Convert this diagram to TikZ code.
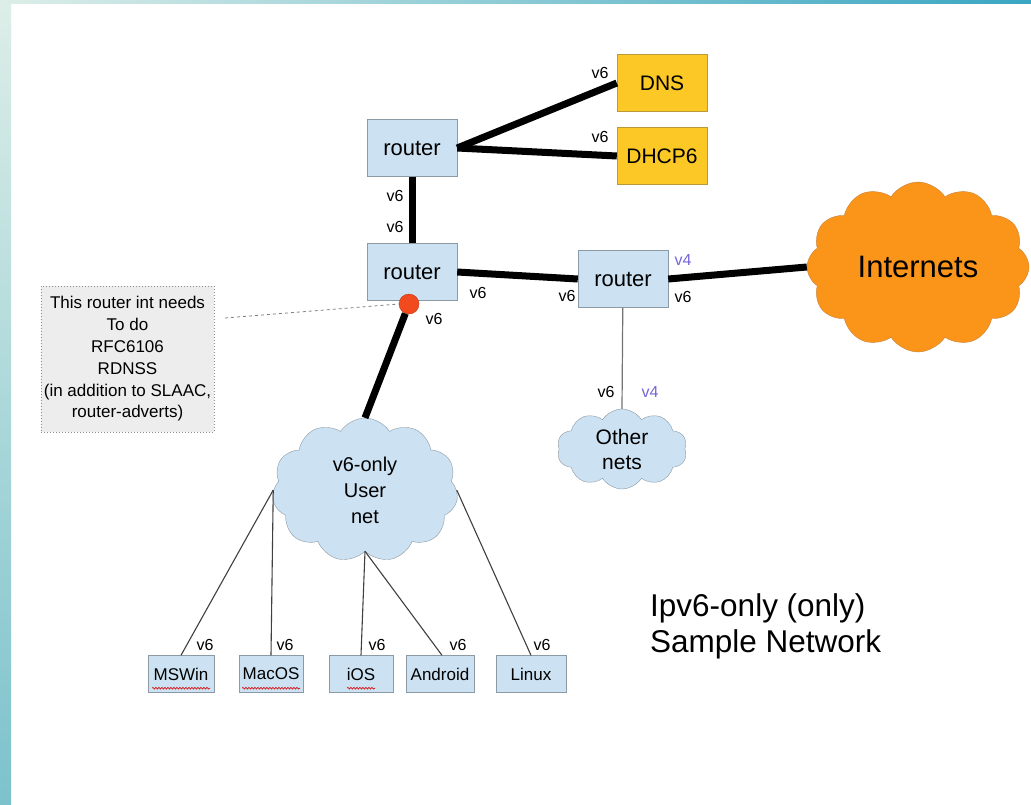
\documentclass[tikz,border=0pt]{standalone}
\usepackage{fontspec}
\setmainfont{Liberation Sans}
\usetikzlibrary{shapes.symbols,decorations.pathmorphing}

\definecolor{boxblue}{HTML}{CCE2F2}
\definecolor{boxedge}{HTML}{8C9AA6}
\definecolor{srvgold}{HTML}{FCC826}
\definecolor{srvedge}{HTML}{B89A3A}
\definecolor{inetorange}{HTML}{FB9519}
\definecolor{inetedge}{HTML}{C8823A}
\definecolor{dotred}{HTML}{F04A1E}
\definecolor{vfour}{HTML}{7466D9}
\definecolor{notegray}{HTML}{EDEDED}
\definecolor{framelight}{HTML}{DDEEE8}
\definecolor{framemid}{HTML}{7CC2CC}
\definecolor{framedeep}{HTML}{3AA6C2}

\begin{document}
\begin{tikzpicture}[x=1pt,y=-1pt,
    box/.style={draw=boxedge,fill=boxblue,inner sep=0pt,minimum width=90,minimum height=57,font=\fontsize{22}{26}\selectfont},
    srv/.style={draw=srvedge,fill=srvgold,inner sep=0pt,minimum width=90,minimum height=57,font=\fontsize{21}{25}\selectfont},
    dev/.style={draw=boxedge,fill=boxblue,inner sep=0pt,minimum height=37,font=\fontsize{17}{20}\selectfont},
    net/.style={cloud,cloud puffs=11,cloud puff arc=115,cloud ignores aspect,draw=boxedge,fill=boxblue,align=center,inner sep=0pt},
    link/.style={line width=7pt,black},
    drop/.style={line width=1.1pt,black!75},
    tag/.style={inner sep=0pt,font=\fontsize{16}{18}\selectfont},
    squiggle/.style={red!85!black,line width=0.6pt,decorate,decoration={snake,amplitude=0.9pt,segment length=3pt}}]

    % slide frame
    \useasboundingbox (0,0) rectangle (1031,804);
    \fill[white] (0,0) rectangle (1031,804);
    \shade[top color=framelight,bottom color=framemid] (0,0) rectangle (11,804);
    \shade[left color=framelight,right color=framedeep] (0,0) rectangle (1031,3);

    % routers and servers
    \node[box] (rtop) at (412,148) {router};
    \node[box] (rmid) at (412,272) {router};
    \node[box] (redge) at (623,279) {router};
    \node[srv] (dns) at (662,83) {DNS};
    \node[srv] (dhcp) at (662,156) {DHCP6};

    % clouds
    \node[net,cloud puffs=12,fill=inetorange,draw=inetedge,minimum width=222,minimum height=170,font=\fontsize{31}{35}\selectfont] (inet) at (918,267) {Internets};
    \node[net,minimum width=186,minimum height=144,font=\fontsize{20}{26}\selectfont] (user) at (365,490) {v6-only\\User\\net};
    \node[net,cloud puffs=10,minimum width=130,minimum height=80,font=\fontsize{21}{25}\selectfont] (other) at (622,449) {Other\\nets};

    % RDNSS interface
    \node[circle,fill=dotred,draw=dotred!80!black,minimum size=20,inner sep=0pt] (dot) at (409,304) {};

    % backbone
    \draw[link] (rtop.east) -- (dns.west);
    \draw[link] (rtop.east) -- (dhcp.west);
    \draw[link] (rtop) -- (rmid);
    \draw[link] (rmid.east) -- (redge.west);
    \draw[link] (redge.east) -- (inet.west);
    \draw[link] (dot) -- (user.north);
    \draw[line width=1.2pt,black!55] (redge) -- (other.north);

    % end hosts
    \foreach \nm/\txt/\x/\w in {msw/MSWin/181/66, mac/MacOS/271/64, ios/iOS/361/64, andr/Android/440/68, lnx/Linux/531/70}
        \node[dev,minimum width=\w] (\nm) at (\x,674) {\txt};
    \draw[drop] (user.west) -- (msw.north);
    \draw[drop] (user.west) -- (mac.north);
    \draw[drop] (user.south) -- (ios.north);
    \draw[drop] (user.south) -- ([xshift=2pt]andr.north);
    \draw[drop] (user.east) -- (lnx.north);
    \draw[squiggle] ([xshift=-29pt,yshift=4.5pt]msw.south) -- ++(58,0);
    \draw[squiggle] ([xshift=-29pt,yshift=4.5pt]mac.south) -- ++(58,0);
    \draw[squiggle] ([xshift=-14pt,yshift=4.5pt]ios.south) -- ++(28,0);

    % protocol tags
    \foreach \p [count=\i] in {(600,73),(600,137),(395,196),(395,227),(478,293),(434,319),(567,296),(683,297),(606,392),(205,645),(285,645),(377,645),(458,645),(542,645)}
        \node[tag] (six\i) at \p {v6};
    \foreach \p [count=\i] in {(683,260),(650,392)}
        \node[tag,text=vfour] (four\i) at \p {v4};

    % note on the user-facing interface
    \node[draw=black!45,dotted,line width=1pt,fill=notegray,minimum width=173,minimum height=146,inner sep=0pt,align=center,font=\fontsize{17}{21.8}\selectfont] (note) at (127.5,359)
        {This router int needs\\To do\\RFC6106\\RDNSS\\(in addition to SLAAC,\\router-adverts)};
    \coordinate (noteend) at (225,318);
    \draw[black!50,dashed,line width=0.8pt] (noteend) -- (dot.west);

    % caption
    \node[anchor=north west,inner sep=0pt,align=left,font=\fontsize{31.5}{36}\selectfont] (caption) at (650,593) {Ipv6-only (only)\\Sample Network};
\end{tikzpicture}
\end{document}
